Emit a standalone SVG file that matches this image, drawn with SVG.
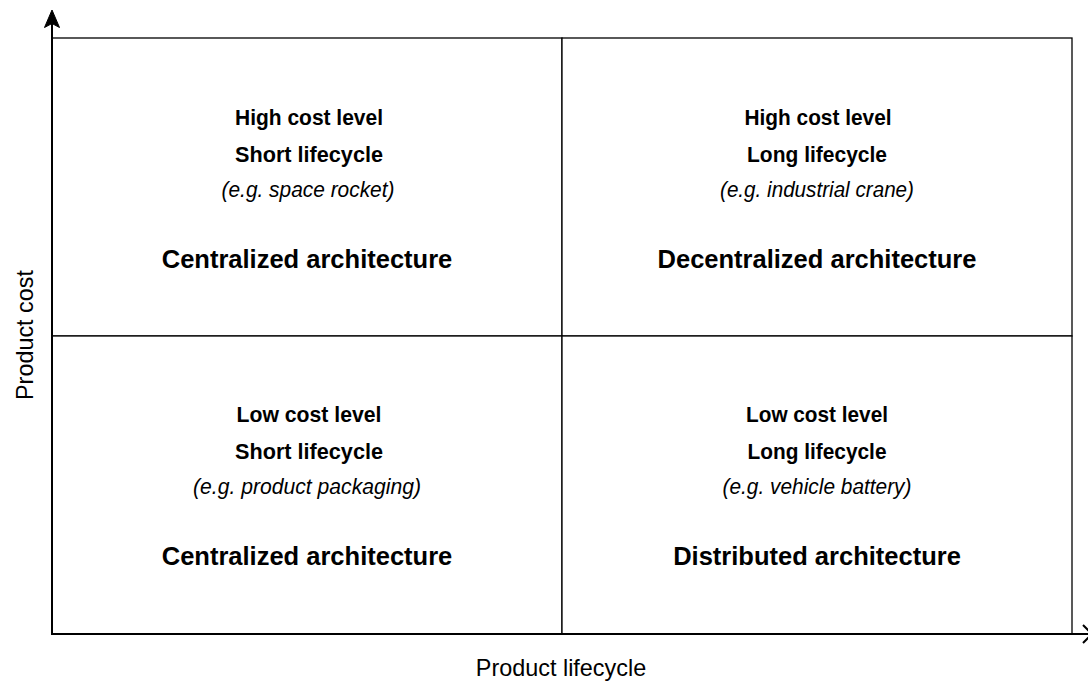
<svg xmlns="http://www.w3.org/2000/svg" width="1088" height="682" viewBox="0 0 1088 682">
<style>
.cell{fill:#fff;stroke:#000;stroke-width:1.3}
.axis{fill:none;stroke:#000;stroke-width:2}
text{font-family:"Liberation Sans",Arial,Helvetica,sans-serif;fill:#000;text-anchor:middle}
.b{font-weight:bold;font-size:22.5px}
.i{font-style:italic;font-size:22.5px}
.arch{font-weight:bold;font-size:25.5px}
.lab{font-size:23.4px}
</style>
<rect width="1088" height="682" fill="#fff"/>
<g id="q-top-left">
<rect class="cell" x="52" y="38" width="510" height="298"/>
<text class="b" x="309" y="125" textLength="148" lengthAdjust="spacingAndGlyphs">High cost level</text>
<text class="b" x="309" y="162" textLength="148" lengthAdjust="spacingAndGlyphs">Short lifecycle</text>
<text class="i" x="308" y="197" textLength="173" lengthAdjust="spacingAndGlyphs">(e.g. space rocket)</text>
<text class="arch" x="307" y="268">Centralized architecture</text>
</g>
<g id="q-top-right">
<rect class="cell" x="562" y="38" width="510" height="298"/>
<text class="b" x="818" y="125" textLength="147" lengthAdjust="spacingAndGlyphs">High cost level</text>
<text class="b" x="817" y="162" textLength="140" lengthAdjust="spacingAndGlyphs">Long lifecycle</text>
<text class="i" x="817" y="197" textLength="194" lengthAdjust="spacingAndGlyphs">(e.g. industrial crane)</text>
<text class="arch" x="817" y="268">Decentralized architecture</text>
</g>
<g id="q-bottom-left">
<rect class="cell" x="52" y="336" width="510" height="298"/>
<text class="b" x="309" y="422" textLength="145" lengthAdjust="spacingAndGlyphs">Low cost level</text>
<text class="b" x="309" y="459" textLength="148" lengthAdjust="spacingAndGlyphs">Short lifecycle</text>
<text class="i" x="307" y="494" textLength="228" lengthAdjust="spacingAndGlyphs">(e.g. product packaging)</text>
<text class="arch" x="307" y="565">Centralized architecture</text>
</g>
<g id="q-bottom-right">
<rect class="cell" x="562" y="336" width="510" height="298"/>
<text class="b" x="817" y="422" textLength="142" lengthAdjust="spacingAndGlyphs">Low cost level</text>
<text class="b" x="817" y="459" textLength="139" lengthAdjust="spacingAndGlyphs">Long lifecycle</text>
<text class="i" x="817" y="494" textLength="189" lengthAdjust="spacingAndGlyphs">(e.g. vehicle battery)</text>
<text class="arch" x="817" y="565">Distributed architecture</text>
</g>
<g id="connectors">
<path class="axis" d="M52,634 V22"/>
<path d="M52,10 L44.5,27.5 L52,23.5 L59.5,27.5 Z" fill="#000" stroke="#000" stroke-width="1"/>
<path class="axis" d="M51,634 H1091"/>
<path class="axis" d="M1083,625 L1092,634 L1083,643"/>
</g>
<g id="axis-labels">
<text class="lab" x="561" y="676">Product lifecycle</text>
<text class="lab" transform="translate(33,335) rotate(-90)" x="0" y="0">Product cost</text>
</g>
</svg>
